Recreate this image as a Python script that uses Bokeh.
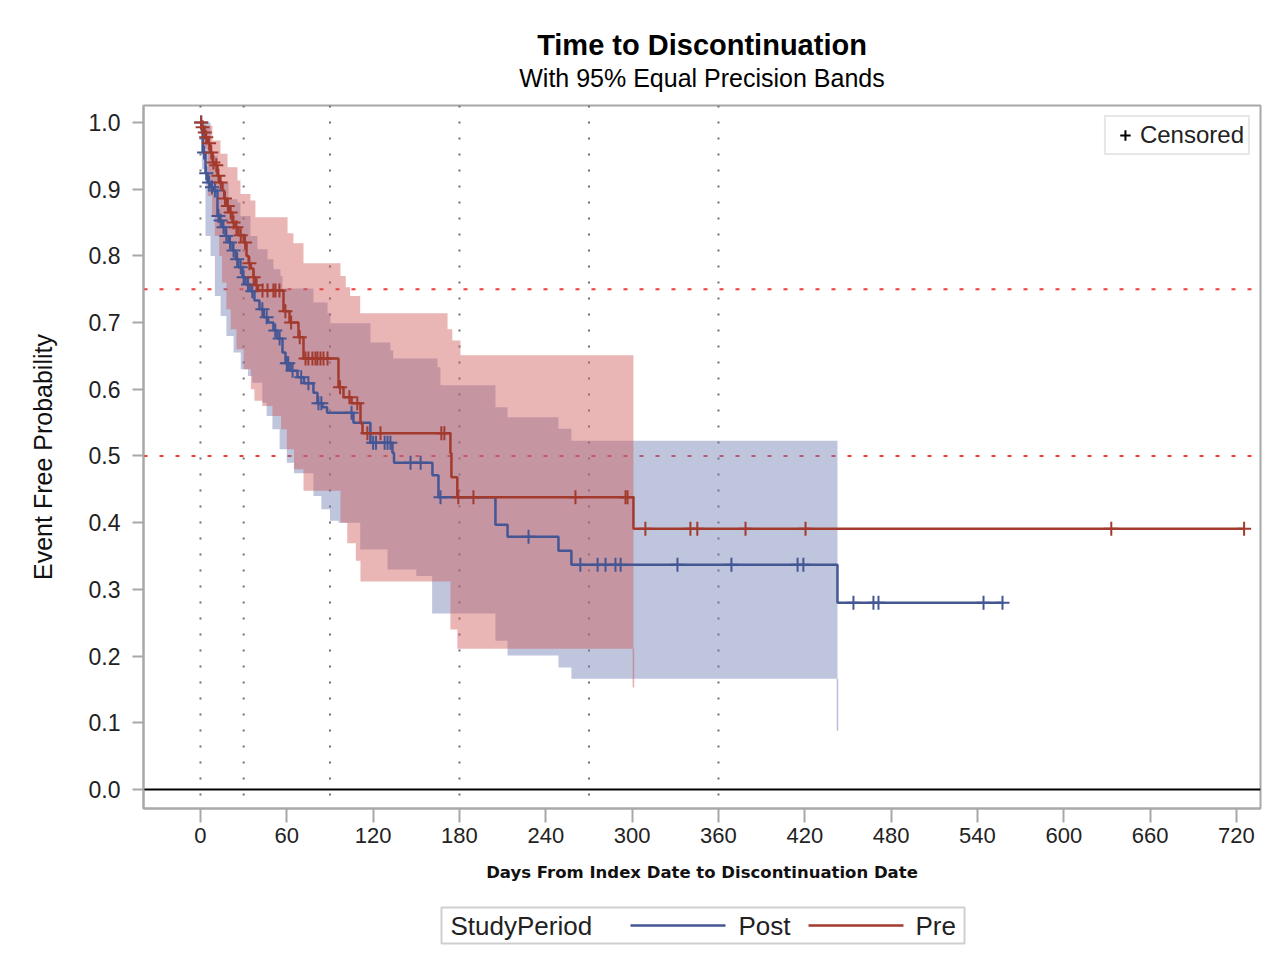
from bokeh.plotting import figure
from bokeh.layouts import column
from bokeh.models import (Range1d, FixedTicker, Span, Legend, LegendItem,
                          NumeralTickFormatter)
from bokeh.core.properties import value
from bokeh.embed import file_html
from bokeh.resources import INLINE

FONT = "Liberation Sans"

# ---------------- data ----------------
day_ticks = [0, 60, 120, 180, 240, 300, 360, 420, 480, 540, 600, 660, 720]
prob_ticks = [0.0, 0.1, 0.2, 0.3, 0.4, 0.5, 0.6, 0.7, 0.8, 0.9, 1.0]
ref_days = [0, 30, 90, 180, 270, 360]
ref_probs = [0.75, 0.5]
groups = ["Post", "Pre"]
group_title = "StudyPeriod"
title_text = "Time to Discontinuation"
subtitle_text = "With 95% Equal Precision Bands"

# Kaplan-Meier estimate, Post
post_t = [0, 1, 1.5, 3.5, 5, 7, 9, 11.8, 13, 15.3, 17.4, 19.5, 22.2, 24.5, 26.4, 29.2,
          31.3, 34.7, 37.5, 41, 44, 47, 50.7, 53.5, 57, 59.1, 62.5, 67.4, 72, 78.5,
          81.3, 84.8, 88, 106.3, 118.1, 133.4, 134.5, 161.2, 165.4, 205, 213.4,
          248.8, 257.8, 442.7, 558]
post_s = [1.0, 0.985, 0.955, 0.924, 0.91, 0.903, 0.898, 0.86, 0.853, 0.843, 0.83, 0.82,
          0.808, 0.795, 0.783, 0.768, 0.757, 0.747, 0.733, 0.72, 0.708, 0.70, 0.688,
          0.676, 0.655, 0.639, 0.628, 0.618, 0.609, 0.595, 0.579, 0.573, 0.565, 0.55,
          0.52, 0.505, 0.49, 0.471, 0.438, 0.397, 0.379, 0.358, 0.337, 0.280, 0.280]
post_cens = [0.5, 2.5, 4, 6, 8, 10, 12.5, 14, 16, 18, 20.5, 23, 25.5, 28, 30, 33, 36,
             43, 46, 52, 55, 60, 61, 64, 70, 75, 82, 84, 105, 120, 122, 128, 130, 132,
             146, 153, 166.8, 228, 264, 276, 281.5, 288.4, 292, 331.5, 369, 415, 419,
             453.8, 467.7, 471.2, 544.2, 557.4]

# Kaplan-Meier estimate, Pre
pre_t = [0, 1, 2, 3.5, 5, 6.9, 8.5, 10, 11.8, 13, 15.3, 16.5, 18.5, 20, 22.2, 24.3,
         26.4, 30, 32, 33.5, 35, 36.8, 38.2, 40, 57.7, 61.9, 68.1, 71.6, 95.9, 99.4,
         105, 111.2, 112.6, 173.7, 174.4, 178.5, 300.9, 726]
pre_s = [1.0, 0.993, 0.985, 0.978, 0.969, 0.955, 0.94, 0.936, 0.92, 0.91, 0.898, 0.886,
         0.875, 0.865, 0.85, 0.843, 0.831, 0.82, 0.80, 0.789, 0.781, 0.768, 0.756,
         0.748, 0.717, 0.70, 0.678, 0.646, 0.603, 0.588, 0.579, 0.549, 0.534, 0.504,
         0.468, 0.438, 0.391, 0.391]
pre_cens = [0.5, 1.5, 3, 4, 6, 7.5, 9, 11, 12.5, 14, 17, 19, 21, 23, 25, 28, 31, 34,
            37, 39, 43.1, 46.6, 50.7, 52.1, 54.9, 59, 63, 69, 73, 75, 77.8, 79.9, 81.3,
            83.4, 85.5, 88.3, 97, 103.5, 109, 116, 125.1, 167.4, 169.5, 179.2, 189.7,
            260.6, 295.4, 296.8, 309.2, 340.5, 345.3, 378.8, 420.5, 633, 725.3]

# 95% equal precision bands, Post
post_up_t = [1, 7, 12, 19.5, 25.7, 27.8, 34.7, 39.6, 46.6, 50.7, 55.6, 57, 78.5, 88.3,
             90.3, 118.1, 132, 134, 164.7, 166.8, 205, 213.4, 248.8, 257.8, 442.7]
post_up = [1.0, 0.95, 0.91, 0.885, 0.88, 0.86, 0.83, 0.81, 0.795, 0.78, 0.77, 0.751,
           0.73, 0.714, 0.699, 0.67, 0.658, 0.646, 0.633, 0.606, 0.573, 0.558, 0.541,
           0.523, 0.523]
post_lo_t = [1, 3.5, 7, 10, 14, 18, 23, 28, 33, 36, 43, 46, 50, 55, 60, 65, 78.5, 84,
             90, 96, 111, 130, 150, 161, 205, 213.4, 248.8, 257.8, 442.7]
post_lo = [0.93, 0.83, 0.80, 0.74, 0.71, 0.68, 0.655, 0.63, 0.62, 0.61, 0.58, 0.56,
           0.54, 0.51, 0.49, 0.474, 0.44, 0.42, 0.403, 0.40, 0.36, 0.33, 0.32, 0.264,
           0.223, 0.201, 0.183, 0.166, 0.166]
post_band_end_lo = 0.088

# 95% equal precision bands, Pre
pre_up_t = [1, 8.3, 13.9, 18.8, 25.7, 27.8, 34.7, 38.2, 60.5, 64.6, 71.6, 97.3, 101,
            104, 111, 171.7, 175, 180.7, 300.9]
pre_up = [0.995, 0.973, 0.953, 0.933, 0.913, 0.893, 0.883, 0.858, 0.834, 0.819, 0.789,
          0.77, 0.753, 0.74, 0.714, 0.69, 0.673, 0.651, 0.651]
pre_lo_t = [1, 5, 8, 10, 13, 15, 18, 21, 25, 30, 35, 37.5, 43, 50, 56, 60, 65, 71.6,
            97.3, 102, 108, 111.2, 173.7, 178.5, 300.9]
pre_lo = [0.96, 0.89, 0.86, 0.83, 0.80, 0.76, 0.72, 0.69, 0.66, 0.63, 0.60, 0.583, 0.575,
          0.56, 0.54, 0.51, 0.48, 0.448, 0.40, 0.369, 0.343, 0.312, 0.24, 0.211, 0.211]
pre_band_end_lo = 0.153

# ---------------- helpers ----------------
def step_path(t, s):
    xs, ys = [], []
    for i in range(len(t)):
        if i > 0:
            xs.append(t[i]); ys.append(s[i - 1])
        xs.append(t[i]); ys.append(s[i])
    return xs, ys

def band_polygon(ut, uv, lt, lv):
    ux, uy = step_path(ut, uv)
    lx, ly = step_path(lt, lv)
    return ux + lx[::-1], uy + ly[::-1]

def lookup(t, s, times):
    out = []
    for c in times:
        v = s[0]
        for ti, si in zip(t, s):
            if ti <= c:
                v = si
        out.append(v)
    return out

def strip(height):
    f = figure(width=W, height=height, x_range=Range1d(LEFT, W - RIGHT),
               y_range=Range1d(0, height), output_backend="svg", toolbar_location=None,
               x_axis_type=None, y_axis_type=None, min_border_left=LEFT,
               min_border_right=RIGHT, min_border_top=0, min_border_bottom=0)
    f.grid.visible = False
    f.outline_line_color = None
    f.background_fill_color = "white"
    f.border_fill_color = "white"
    return f

BLUE, RED = "#445694", "#A23A2E"
BLUE_FILL, RED_FILL = "#6F7EB3", "#D05B5B"
GRAY = "#A8A8A8"
TXT = "#222222"

x0, x1 = -39.6, 736.7
y0, y1 = -0.0285, 1.0255
W = 1262
LEFT, RIGHT = 143, 2
HEAD = 103

# ---------------- title strip (x and y in page pixels) ----------------
hd = strip(HEAD)
xc = (LEFT + W - RIGHT) / 2
hd.text(x=[xc], y=[HEAD - 44], text=[title_text], text_font=value(FONT),
        text_font_size="29px", text_font_style="bold", text_align="center",
        text_baseline="middle", text_color="black")
hd.text(x=[xc], y=[HEAD - 77], text=[subtitle_text], text_font=value(FONT),
        text_font_size="25px", text_align="center", text_baseline="middle",
        text_color="black")

# ---------------- main chart ----------------
p = figure(width=W, height=895 - HEAD, x_range=Range1d(x0, x1),
           y_range=Range1d(y0, y1), output_backend="svg", toolbar_location=None,
           title=None, min_border_left=LEFT, min_border_right=RIGHT,
           min_border_top=105 - HEAD, min_border_bottom=87)
p.grid.visible = False
p.outline_line_color = GRAY
p.outline_line_width = 2
p.background_fill_color = "white"
p.border_fill_color = "white"

# bands
bx, by = band_polygon(post_up_t, post_up, post_lo_t, post_lo)
p.patch(bx, by, fill_color=BLUE_FILL, fill_alpha=0.45, line_color=None)
p.segment(x0=[post_lo_t[-1]], y0=[post_lo[-1]], x1=[post_lo_t[-1]], y1=[post_band_end_lo],
          line_color=BLUE_FILL, line_alpha=0.5, line_width=1.5)
rx, ry = band_polygon(pre_up_t, pre_up, pre_lo_t, pre_lo)
p.patch(rx, ry, fill_color=RED_FILL, fill_alpha=0.45, line_color=None)
p.segment(x0=[pre_lo_t[-1]], y0=[pre_lo[-1]], x1=[pre_lo_t[-1]], y1=[pre_band_end_lo],
          line_color=RED_FILL, line_alpha=0.5, line_width=1.5)

# reference lines
for d in ref_days:
    p.add_layout(Span(location=d, dimension="height", line_color="#707070",
                      line_dash="2 14", line_width=2, level="underlay"))
for v in ref_probs:
    p.add_layout(Span(location=v, dimension="width", line_color="#EE3B3B",
                      line_dash="4 12", line_width=2, level="underlay"))
p.add_layout(Span(location=0, dimension="width", line_color="black", line_width=2,
                  level="underlay"))

# curves
r_post = p.step(post_t, post_s, mode="after", line_color=BLUE, line_width=2.5)
r_pre = p.step(pre_t, pre_s, mode="after", line_color=RED, line_width=2.5)
p.scatter(post_cens, lookup(post_t, post_s, post_cens), marker="cross", size=14,
          line_color=BLUE, line_width=2)
p.scatter(pre_cens, lookup(pre_t, pre_s, pre_cens), marker="cross", size=14,
          line_color=RED, line_width=2)

# axes
p.xaxis.ticker = FixedTicker(ticks=day_ticks)
p.yaxis.ticker = FixedTicker(ticks=prob_ticks)
p.yaxis.formatter = NumeralTickFormatter(format="0.0")
for ax in (p.xaxis[0], p.yaxis[0]):
    ax.axis_line_color = GRAY
    ax.axis_line_width = 2
    ax.major_tick_line_color = GRAY
    ax.major_tick_line_width = 2
    ax.major_tick_in = 0
    ax.minor_tick_line_color = None
    ax.major_label_text_font = FONT
    ax.major_label_text_color = TXT
    ax.axis_label_text_font = FONT
    ax.axis_label_text_color = "#111111"
p.xaxis.major_label_text_font_size = "22px"
p.yaxis.major_label_text_font_size = "23px"
p.xaxis.major_tick_out = 14
p.yaxis.major_tick_out = 11
p.xaxis.major_label_standoff = 5
p.yaxis.major_label_standoff = 12
p.xaxis.axis_label = "Days From Index Date to Discontinuation Date"
p.xaxis.axis_label_text_font = "DejaVu Sans"
p.xaxis.axis_label_text_font_size = "16.5px"
p.xaxis.axis_label_text_font_style = "bold"
p.xaxis.axis_label_standoff = 17
p.yaxis.axis_label = "Event Free Probability"
p.yaxis.axis_label_text_font_size = "25px"
p.yaxis.axis_label_text_font_style = "normal"
p.yaxis.axis_label_standoff = 29

# censored legend (key glyph only, its point lies outside the view)
dummy = p.scatter([x0 - 1000], [0.5], marker="cross", line_color="black",
                  line_width=2)
leg_c = Legend(items=[LegendItem(label="Censored", renderers=[dummy])],
               location="top_right", glyph_width=30, glyph_height=26,
               label_standoff=0, padding=4, margin=10, label_text_font=FONT,
               label_text_font_size="24px", label_text_color=TXT,
               border_line_color="#cfcfcf", border_line_width=2,
               background_fill_color="white", background_fill_alpha=1)
p.add_layout(leg_c)

# ---------------- group legend strip (x in page pixels) ----------------
lg = strip(60)
lg.quad(left=[441], right=[964], bottom=[12], top=[48], fill_color=None,
        line_color="#cfcfcf", line_width=2)
lg.text(x=[450, 738, 915], y=[30, 30, 30], text=[group_title] + groups,
        text_font=value(FONT), text_baseline="middle", text_font_size="26px",
        text_color=TXT)
lg.segment(x0=[630, 808], y0=[30, 30], x1=[725, 903], y1=[30, 30],
           line_color=[BLUE, RED], line_width=2.5)

layout = column(hd, p, lg, spacing=0)
open("out.html", "w").write(file_html(layout, INLINE))
